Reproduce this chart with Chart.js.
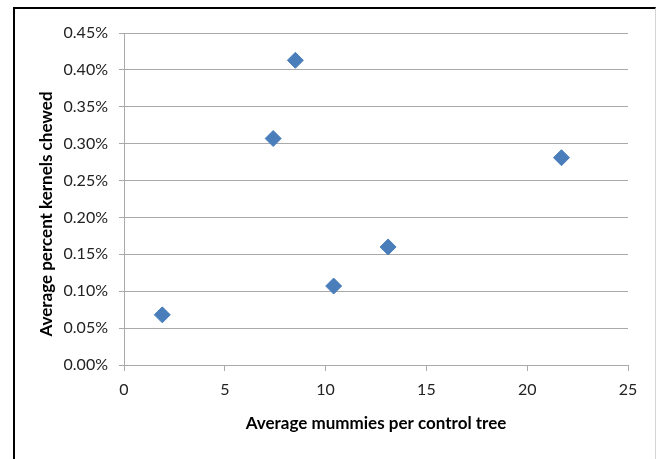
<!DOCTYPE html>
<html>
<head>
<meta charset="utf-8">
<script src="https://cdn.jsdelivr.net/npm/chart.js@4/dist/chart.umd.min.js"></script>
<style>
  html, body { margin: 0; padding: 0; background: #fff; overflow: hidden; }
  #wrap { position: relative; width: 657px; height: 459px; }
  #frame {
    position: absolute; left: 13px; top: 7px; width: 640px; height: 470px;
    border-left: 2px solid #000; border-top: 2px solid #000; border-right: 1px solid #d4d4d4;
  }
  #c { position: absolute; left: 0; top: 0; }
</style>
</head>
<body>
<div id="wrap">
  <div id="frame"></div>
  <canvas id="c" width="657" height="459"></canvas>
</div>
<script>
// Average mummies per control tree vs. average percent of kernels chewed
const mummiesPerTree = [1.9, 7.4, 8.5, 10.4, 13.1, 21.7];
const percentChewed  = [0.068, 0.307, 0.413, 0.107, 0.160, 0.281];

const xTicks = [0, 5, 10, 15, 20, 25];
const yTicks = [0, 0.05, 0.10, 0.15, 0.20, 0.25, 0.30, 0.35, 0.40, 0.45];

const xTitle = 'Average mummies per control tree';
const yTitle = 'Average percent kernels chewed';

const points = mummiesPerTree.map((x, i) => ({ x: x, y: percentChewed[i] }));

const FONT = 'Lato, "Open Sans", "Liberation Sans", sans-serif';
const GRID = '#a9a9a9';

// Axis titles placed relative to the plot area
const axisTitles = {
  id: 'axisTitles',
  afterDraw(chart) {
    const { ctx, chartArea: a } = chart;
    ctx.save();
    ctx.fillStyle = '#000';
    ctx.font = 'bold 17px ' + FONT;
    ctx.textAlign = 'center';
    ctx.textBaseline = 'middle';
    ctx.fillText(xTitle, (a.left + a.right) / 2, a.bottom + 59);
    ctx.translate(47, (a.top + a.bottom) / 2 + 15);
    ctx.rotate(-Math.PI / 2);
    ctx.fillText(yTitle, 0, 0);
    ctx.restore();
  }
};

new Chart(document.getElementById('c'), {
  type: 'scatter',
  data: {
    datasets: [{
      data: points,
      pointStyle: 'rectRot',
      pointRadius: 8,
      pointHoverRadius: 8,
      backgroundColor: '#4a7ebb',
      borderColor: '#4a7ebb',
      borderWidth: 1
    }]
  },
  options: {
    responsive: false,
    animation: false,
    devicePixelRatio: 1,
    layout: { padding: { left: 0, top: 33, right: 29, bottom: 0 } },
    plugins: { legend: { display: false }, tooltip: { enabled: false } },
    scales: {
      x: {
        type: 'linear',
        min: 0, max: 25,
        afterBuildTicks(s) { s.ticks = xTicks.map(v => ({ value: v })); },
        afterFit(s) { s.height = 94; },
        grid: { drawOnChartArea: false, drawTicks: true, tickLength: 6, color: GRID },
        border: { display: true, color: GRID },
        ticks: { color: '#222', font: { family: FONT, size: 16 }, padding: 9, maxRotation: 0 }
      },
      y: {
        type: 'linear',
        min: 0, max: 0.45,
        afterBuildTicks(s) { s.ticks = yTicks.map(v => ({ value: v })); },
        afterFit(s) { s.width = 124; },
        grid: { drawOnChartArea: true, drawTicks: true, tickLength: 5, color: GRID },
        border: { display: true, color: GRID },
        ticks: {
          color: '#222', font: { family: FONT, size: 16 }, padding: 11,
          callback: v => v.toFixed(2) + '%'
        }
      }
    }
  },
  plugins: [axisTitles]
});
</script>
</body>
</html>
